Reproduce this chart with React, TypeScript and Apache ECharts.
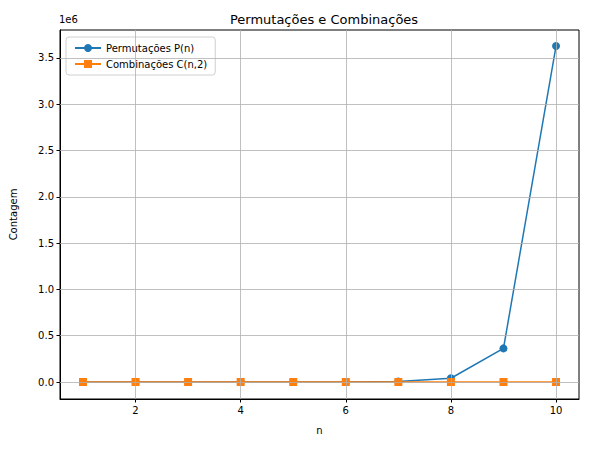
import React, { useEffect, useRef } from "react";
import * as echarts from "echarts";

const nValues = [1, 2, 3, 4, 5, 6, 7, 8, 9, 10];
const permutations = [1, 2, 6, 24, 120, 720, 5040, 40320, 362880, 3628800];
const combinations = [0, 1, 3, 6, 10, 15, 21, 28, 36, 45];
const xTicks = [2, 4, 6, 8, 10];
const yTicks = [0, 500000, 1000000, 1500000, 2000000, 2500000, 3000000, 3500000];

const FONT = "DejaVu Sans";

export default function App() {
  const ref = useRef<HTMLDivElement>(null);
  useEffect(() => {
    const chart = echarts.init(ref.current!, null, { renderer: "svg" });
    const grid = "#b0b0b0";
    chart.setOption({
      animation: false,
      textStyle: { fontFamily: FONT },
      title: {
        text: "Permutações e Combinações",
        left: 319, top: 8, textAlign: "center",
        textStyle: { fontSize: 13, fontWeight: "normal", color: "#000", fontFamily: FONT },
      },
      graphic: [{ type: "text", left: 59, top: 14, style: { text: "1e6", fontSize: 10, fill: "#000", fontFamily: FONT } }],
      legend: {
        left: 66, top: 37, orient: "vertical",
        backgroundColor: "#fff", borderColor: "#d0d0d0", borderWidth: 1, borderRadius: 3,
        padding: [6, 8], itemGap: 6, itemWidth: 26, itemHeight: 10,
        textStyle: { fontSize: 10, color: "#000", fontFamily: FONT },
        data: ["Permutações P(n)", "Combinações C(n,2)"],
      },
      grid: { left: 59, right: 10, top: 30, bottom: 50, show: true, borderColor: "#000", borderWidth: 1, containLabel: false },
      xAxis: {
        type: "value", min: 0.563, max: 10.437,
        name: "n", nameLocation: "middle", nameGap: 26,
        nameTextStyle: { fontSize: 10, color: "#000", fontFamily: FONT },
        axisLine: { show: true, onZero: false, lineStyle: { color: "#000" } },
        axisTick: { show: true, customValues: xTicks, length: 3.5, lineStyle: { color: "#000" } },
        axisLabel: { customValues: xTicks, fontSize: 10, color: "#000", margin: 6, fontFamily: FONT },
        splitLine: { show: false },
      },
      yAxis: {
        type: "value", min: -183600, max: 3801900,
        name: "Contagem", nameLocation: "middle", nameGap: 42,
        nameTextStyle: { fontSize: 10, color: "#000", fontFamily: FONT },
        axisLine: { show: true, onZero: false, lineStyle: { color: "#000" } },
        axisTick: { show: true, customValues: yTicks, length: 3.5, lineStyle: { color: "#000" } },
        axisLabel: { customValues: yTicks, fontSize: 10, color: "#000", margin: 6, fontFamily: FONT,
          formatter: (v: number) => (v / 1e6).toFixed(1) },
        splitLine: { show: false },
      },
      series: [
        {
          type: "line", name: "grid", data: [], silent: true, z: 0,
          markLine: {
            silent: true, symbol: "none", label: { show: false }, animation: false,
            lineStyle: { color: grid, width: 0.8, type: "solid" },
            data: [...xTicks.map((x) => ({ xAxis: x })), ...yTicks.map((y) => ({ yAxis: y }))],
          },
        },
        {
          type: "line", name: "Permutações P(n)", z: 3,
          data: nValues.map((n, i) => [n, permutations[i]]),
          symbol: "circle", symbolSize: 8,
          lineStyle: { color: "#1f77b4", width: 1.5 }, itemStyle: { color: "#1f77b4" },
        },
        {
          type: "line", name: "Combinações C(n,2)", z: 4,
          data: nValues.map((n, i) => [n, combinations[i]]),
          symbol: "rect", symbolSize: 8,
          lineStyle: { color: "#ff7f0e", width: 1.5 }, itemStyle: { color: "#ff7f0e" },
        },
      ],
    });
    return () => chart.dispose();
  }, []);
  return <div ref={ref} style={{ width: 589, height: 449, margin: -8 }} />;
}
